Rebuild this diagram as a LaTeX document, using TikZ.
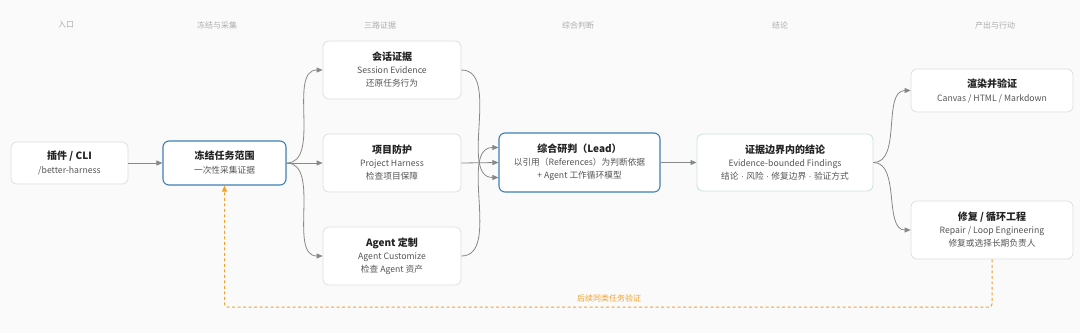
\documentclass[tikz,border=0pt]{standalone}
\usepackage{fontspec}
\setmainfont{Noto Sans CJK SC}
\newfontfamily\latf{Liberation Sans}
\usetikzlibrary{arrows.meta}
\definecolor{bgc}{HTML}{FAFAFA}
\definecolor{boxb}{HTML}{DEDEDE}
\definecolor{blueb}{HTML}{3F80B5}
\definecolor{tealb}{HTML}{CFE4DF}
\definecolor{colt}{HTML}{ADADAD}
\definecolor{titc}{HTML}{222222}
\definecolor{subc}{HTML}{555555}
\definecolor{arrc}{HTML}{888888}
\definecolor{orc}{HTML}{EFA231}
\begin{document}
\begin{tikzpicture}[x=1pt,y=-1pt,
  box/.style={draw=boxb,line width=0.7pt,fill=white,rounded corners=6pt,align=center,inner sep=0pt,
    font=\fontsize{8.7}{13}\selectfont,text=subc},
  blue/.style={draw=blueb,line width=1.1pt},
  teal/.style={draw=tealb,line width=0.9pt},
  col/.style={font=\fontsize{8}{10}\selectfont,text=colt},
  arr/.style={draw=arrc,line width=0.8pt,-{Triangle[length=6pt,width=5pt]}},
  crv/.style={arr,out=0,in=180,looseness=0.9},
  dsh/.style={draw=orc,line width=1pt,dashed,dash pattern=on 3pt off 2.5pt,rounded corners=3pt,-{Triangle[length=6pt,width=5pt]}},
]
\fill[bgc] (0,0) rectangle (1080,333);
\newcommand{\ttl}[1]{{\fontsize{10}{13}\selectfont\bfseries\color{titc}#1}}
\newcommand{\dt}{{\latf\ ·\ }}
% column labels
\node[col] (c1) at (66,25) {入口};
\node[col] (c2) at (217,25) {冻结与采集};
\node[col] (c3) at (380,25) {三路证据};
\node[col] (c4) at (578,25) {综合判断};
\node[col] (c5) at (780,25) {结论};
\node[col] (c6) at (995,25) {产出与行动};
% nodes
\node[box,minimum width=117pt,minimum height=42pt] (cli) at (69.5,163) {\ttl{插件 / CLI}\\[1pt]/better-harness};
\node[box,blue,minimum width=123pt,minimum height=44pt] (frz) at (224.5,163) {\ttl{冻结任务范围}\\[1pt]一次性采集证据};
\node[box,minimum width=138pt,minimum height=58pt] (ses) at (392,70) {\ttl{会话证据}\\Session Evidence\\还原任务行为};
\node[box,minimum width=138pt,minimum height=58pt] (prj) at (392,163) {\ttl{项目防护}\\Project Harness\\检查项目保障};
\node[box,minimum width=138pt,minimum height=58pt] (agt) at (392,256) {\ttl{Agent 定制}\\Agent Customize\\检查 Agent 资产};
\node[box,blue,minimum width=161pt,minimum height=59pt] (lead) at (579.5,162.5) {\ttl{综合研判（Lead）}\\以引用（References）为判断依据\\+ Agent 工作循环模型};
\node[box,teal,minimum width=176pt,minimum height=57pt] (fnd) at (785,162.5) {\ttl{证据边界内的结论}\\Evidence-bounded Findings\\结论\dt 风险\dt 修复边界\dt 验证方式};
\node[box,minimum width=162pt,minimum height=43pt] (ren) at (992,90.5) {\ttl{渲染并验证}\\[1pt]Canvas / HTML / Markdown};
\node[box,minimum width=162pt,minimum height=58pt] (rep) at (992,230) {\ttl{修复 / 循环工程}\\Repair / Loop Engineering\\修复或选择长期负责人};
% connectors
\draw[arr] (cli.east) -- (frz.west);
\draw[crv] (frz.east) to (ses.west);
\draw[arr] (frz.east) -- (prj.west);
\draw[crv] (frz.east) to (agt.west);
\draw[crv] (ses.east) to ([yshift=-15pt]lead.west);
\draw[arr] (prj.east) -- (lead.west);
\draw[crv] (agt.east) to ([yshift=15pt]lead.west);
\draw[arr] (lead.east) -- (fnd.west);
\draw[crv] (fnd.east) to (ren.west);
\draw[crv] (fnd.east) to (rep.west);
\coordinate (lp) at (992,307);
\draw[dsh] (rep.south) -- (lp) -| (frz.south);
\node[font=\fontsize{8}{10}\selectfont,text=orc] (lbl) at (609,298) {后续同类任务验证};
\end{tikzpicture}
\end{document}
